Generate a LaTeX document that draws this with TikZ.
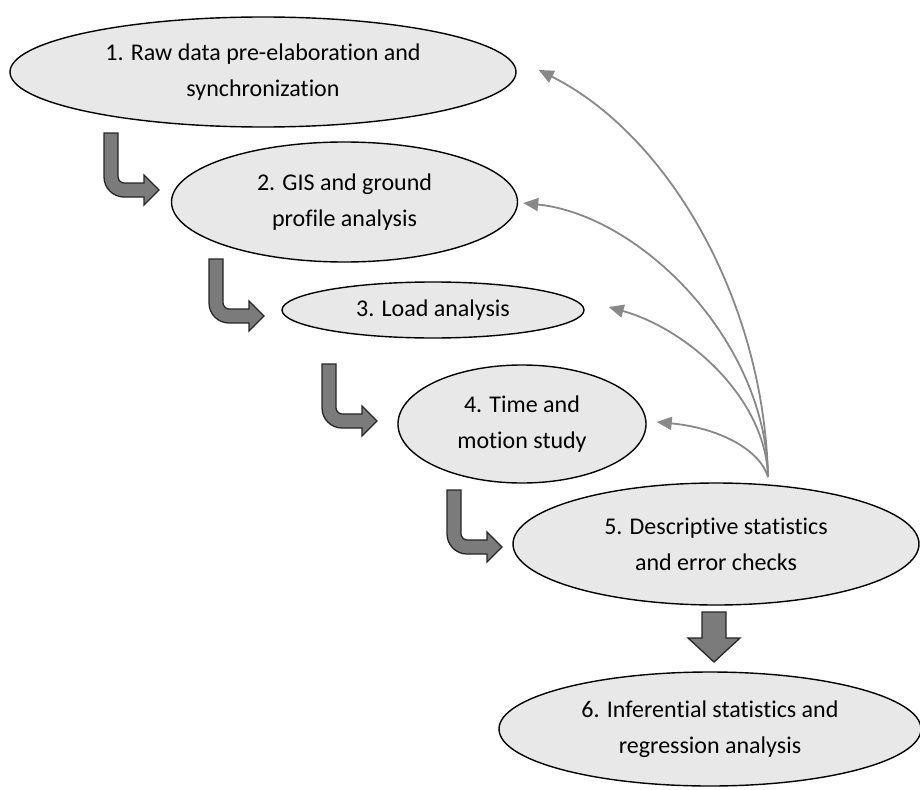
\documentclass[tikz,border=0pt]{standalone}
\usepackage{fontspec}
\setmainfont{Carlito}[RawFeature=-liga]
\usetikzlibrary{shapes.geometric,arrows.meta}
\definecolor{ellfill}{HTML}{E8E8E8}
\definecolor{bentfill}{HTML}{7B7B7B}
\definecolor{fbgray}{HTML}{888888}
\tikzset{
  stage/.style={ellipse, draw=black, line width=1.4pt, fill=ellfill, inner sep=0pt,
     align=center, font=\fontsize{24}{36}\selectfont},
  bentarrow/.style={draw=black!85, line width=1.3pt, fill=bentfill, line join=miter},
  feedback/.style={draw=fbgray, line width=1.8pt, -{Triangle[length=15pt,width=13pt]}},
}
\newcommand{\bentarr}[2]{%
  \path[bentarrow] (#1-7,#2) -- (#1-7,#2+44)
    .. controls (#1-7,#2+55) and (#1+2,#2+64) .. (#1+13,#2+64)
    -- (#1+33,#2+64) -- (#1+33,#2+72) -- (#1+48,#2+57) -- (#1+33,#2+42) -- (#1+33,#2+50)
    -- (#1+13,#2+50)
    .. controls (#1+9.7,#2+50) and (#1+7,#2+46.7) .. (#1+7,#2+44)
    -- (#1+7,#2) -- cycle;}
\begin{document}
\begin{tikzpicture}[x=1pt,y=-1pt]
\useasboundingbox (0,0) rectangle (920,789);
\node[stage, minimum width=506pt, minimum height=110pt] (e1) at (263,72) {1. Raw data pre-elaboration and\\synchronization};
\node[stage, minimum width=346pt, minimum height=120pt] (e2) at (344.5,202) {2. GIS and ground\\profile analysis};
\node[stage, minimum width=302pt, minimum height=56pt] (e3) at (433,310) {3. Load analysis};
\node[stage, minimum width=248pt, minimum height=118pt] (e4) at (522,424) {4. Time and\\motion study};
\node[stage, minimum width=406pt, minimum height=122pt] (e5) at (716,544) {5. Descriptive statistics\\and error checks};
\node[stage, minimum width=422pt, minimum height=114pt] (e6) at (710,729) {6. Inferential statistics and\\regression analysis};

\bentarr{111}{133}
\bentarr{216}{259}
\bentarr{329}{364}
\bentarr{454}{490}

\path[bentarrow] (702,612) -- (702,638) -- (688,638) -- (714,662) -- (740,638) -- (726,638) -- (726,612) -- cycle;

\coordinate (src) at (768,477);
\draw[feedback] (src) .. controls (764,300) and (668,135) .. ([xshift=22pt,yshift=2pt]e1.east);
\draw[feedback] (src) .. controls (766,340) and (640,215) .. ([xshift=5pt,yshift=-1pt]e2.east);
\draw[feedback] (src) .. controls (766,400) and (690,330) .. ([xshift=24pt,yshift=3pt]e3.east);
\draw[feedback] (src) .. controls (760,450) and (720,428) .. ([xshift=10pt,yshift=2pt]e4.east);
\end{tikzpicture}
\end{document}
